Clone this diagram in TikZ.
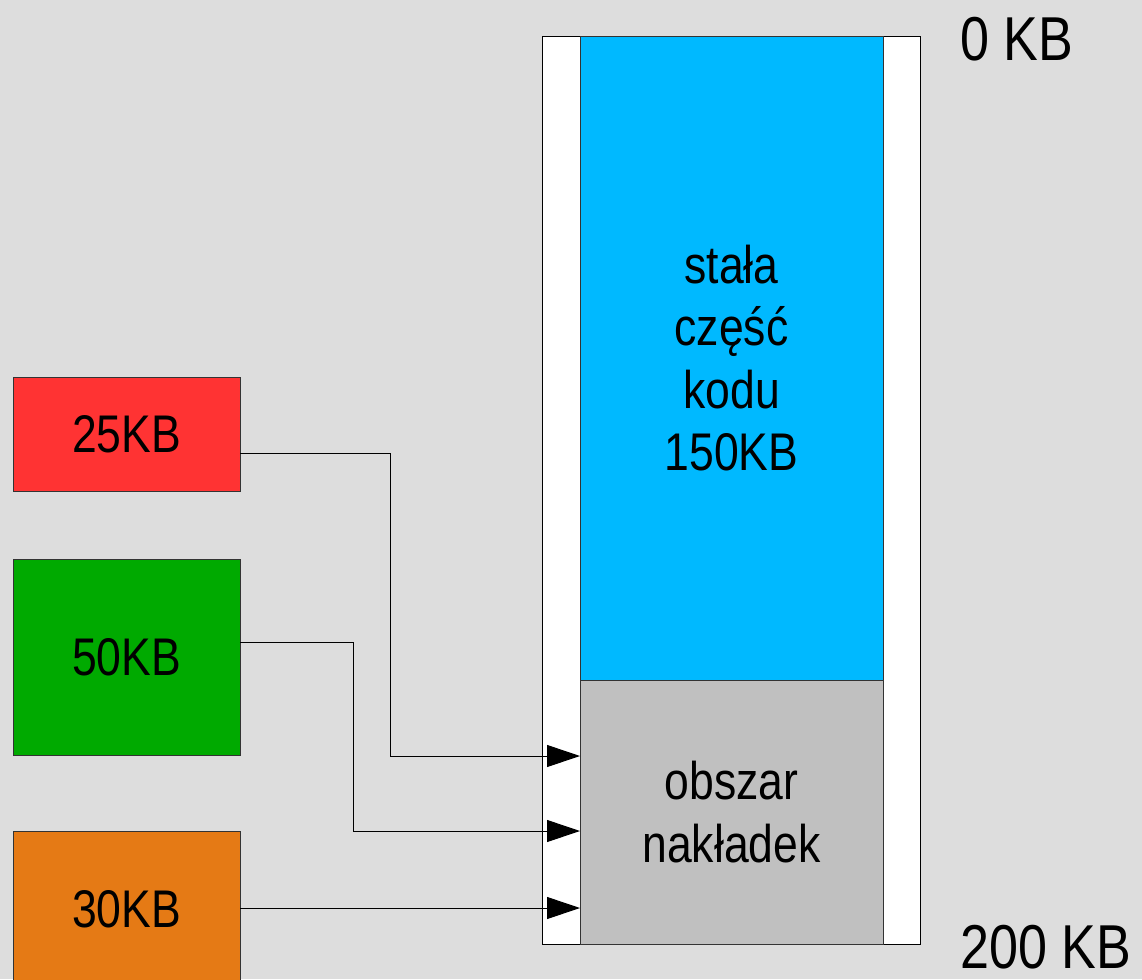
\documentclass[tikz,border=0pt]{standalone}
\usepackage{fontspec}
\setmainfont{Liberation Sans}[FakeStretch=0.84]
\usetikzlibrary{arrows.meta,calc}
\definecolor{bg}{HTML}{DDDDDD}
\definecolor{cblue}{HTML}{00B9FF}
\definecolor{cgray}{HTML}{C0C0C0}
\definecolor{cred}{HTML}{FF3333}
\definecolor{cgreen}{HTML}{00AA00}
\definecolor{corange}{HTML}{E57A15}
\definecolor{edge}{HTML}{333333}
\tikzset{
  blk/.style={draw=edge, line width=1pt, inner sep=0pt, outer sep=0pt, anchor=north west},
  lbl/.style={font=\fontsize{53}{62.3}\selectfont, align=center, inner sep=0pt},
  big/.style={font=\fontsize{62}{70}\selectfont, inner sep=0pt, anchor=base west},
  conn/.style={line width=1pt, draw=black, -{Triangle[length=33pt,width=22pt,fill=black]}}
}
\begin{document}
\begin{tikzpicture}[x=1pt,y=-1pt]
\fill[bg] (0,0) rectangle (1142,979);
\useasboundingbox (0,0) rectangle (1142,979);
% memory column
\node[blk, draw=black, fill=white, minimum width=378pt, minimum height=907pt] (mem) at (542,37) {};
\node[blk, fill=cblue, minimum width=303pt, minimum height=643pt] (fix) at (580,37) {};
\node[blk, fill=cgray, minimum width=303pt, minimum height=264pt] (ov) at (580,680) {};
\node[lbl] (fixt) at (fix.center |- 0,358) {stała\\część\\kodu\\150KB};
\node[lbl] (ovt) at (ov.center |- 0,812) {obszar\\nakładek};
% overlays
\node[blk, fill=cred, minimum width=227pt, minimum height=114pt] (r) at (13,377) {};
\node[lbl] at (r.center) {25KB};
\node[blk, fill=cgreen, minimum width=227pt, minimum height=196pt] (g) at (13,559) {};
\node[lbl] at (g.center) {50KB};
\node[blk, fill=corange, minimum width=227pt, minimum height=160pt] (o) at (13,831) {};
\node[lbl] at ($(o.north)+(0,78)$) {30KB};
% labels
\node[big] (top) at (960,61) {0 KB};
\node[big] (bot) at (960,968) {200 KB};
% connectors
\coordinate (r1) at (390,453);
\coordinate (g1) at (353,642);
\draw[conn] (r.east |- r1) -- (r1) -- (r1 |- 0,756) -- (ov.west |- 0,756);
\draw[conn] (g.east |- g1) -- (g1) -- (g1 |- 0,831) -- (ov.west |- 0,831);
\draw[conn] (o.east |- 0,908) -- (ov.west |- 0,908);
\end{tikzpicture}
\end{document}
